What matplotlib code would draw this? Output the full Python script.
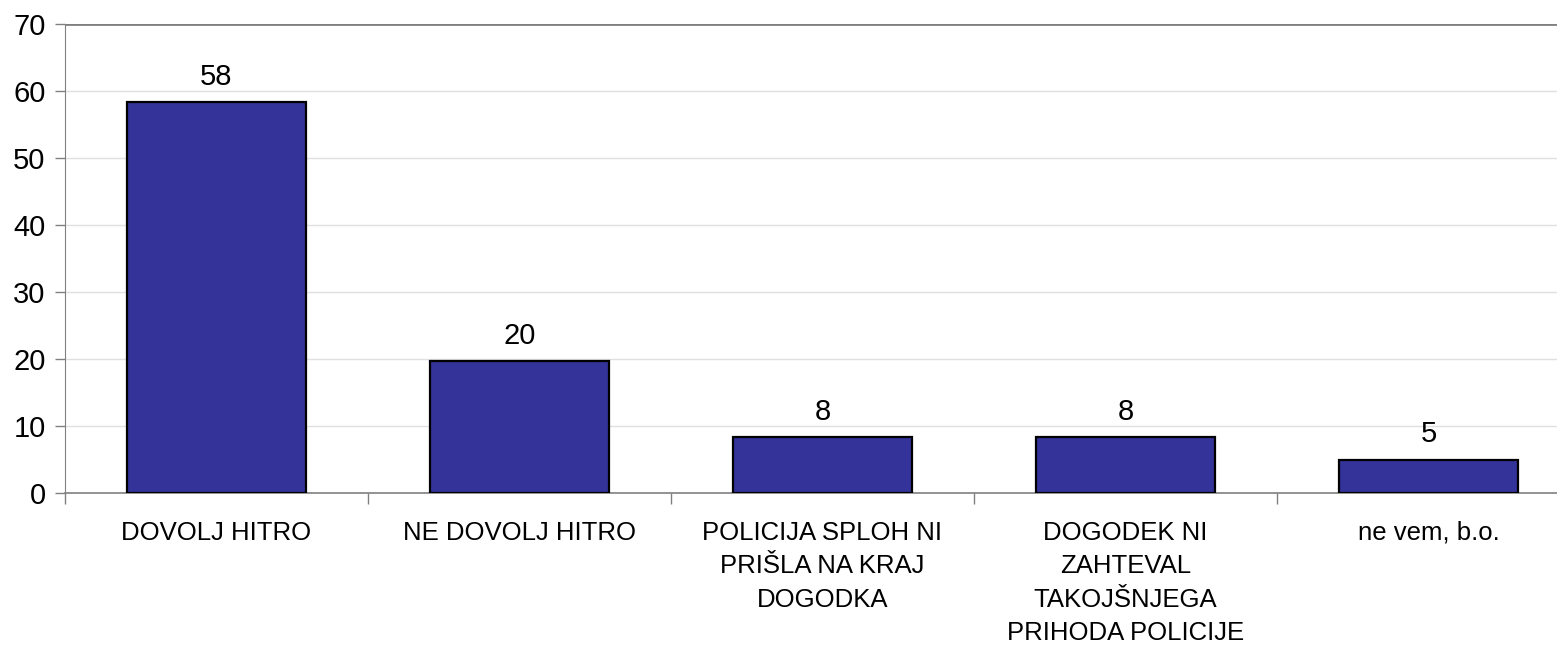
import numpy as np
import matplotlib.pyplot as plt

plt.rcParams['font.family'] = ['Liberation Sans', 'DejaVu Sans']

# data
categories = ["DOVOLJ HITRO", "NE DOVOLJ HITRO", "POLICIJA SPLOH NI\nPRIŠLA NA KRAJ\nDOGODKA",
              "DOGODEK NI\nZAHTEVAL\nTAKOJŠNJEGA\nPRIHODA POLICIJE", "ne vem, b.o."]
values = [58.4, 19.7, 8.3, 8.3, 5.0]
labels = ["58", "20", "8", "8", "5"]

fig = plt.figure(figsize=(15.57, 6.45), dpi=100)
# axes runs a bit past the right edge, like the original crop
ax = fig.add_axes([65 / 1557, 152 / 645, 1515 / 1557, 469 / 645])

x = np.arange(len(categories))
bars = ax.bar(x, values, width=0.594, color="#333399", edgecolor="black", linewidth=1.6, zorder=3)

for b, lab in zip(bars, labels):
    ax.annotate(lab, (b.get_x() + b.get_width() / 2, b.get_height()),
                xytext=(0, 8), textcoords="offset points", ha="center", va="bottom",
                fontsize=21)

ax.set_xlim(-0.5, len(categories) - 0.5)
ax.set_ylim(0, 70)
ax.set_yticks(np.arange(0, 71, 10))
ax.tick_params(axis="y", labelsize=21, length=7, width=1, color="#808080", pad=7)

# x ticks sit between categories, labels at centres
ax.set_xticks(np.arange(-0.5, len(categories), 1.0))
ax.set_xticklabels([])
ax.set_xticks(x, minor=True)
ax.set_xticklabels(categories, minor=True, fontsize=18.5, linespacing=1.5)
ax.tick_params(axis="x", which="major", length=8, width=1, color="#808080")
ax.tick_params(axis="x", which="minor", length=0, pad=20)

ax.grid(axis="y", color="#e0e0e0", linewidth=1, zorder=0)
ax.axhline(70, color="#808080", linewidth=2, zorder=2)

for s in ["right", "top"]:
    ax.spines[s].set_visible(False)
ax.spines["left"].set_color("#808080")
ax.spines["bottom"].set_color("#808080")
ax.spines["bottom"].set_linewidth(1.2)

fig.savefig("out.png", dpi=100)
